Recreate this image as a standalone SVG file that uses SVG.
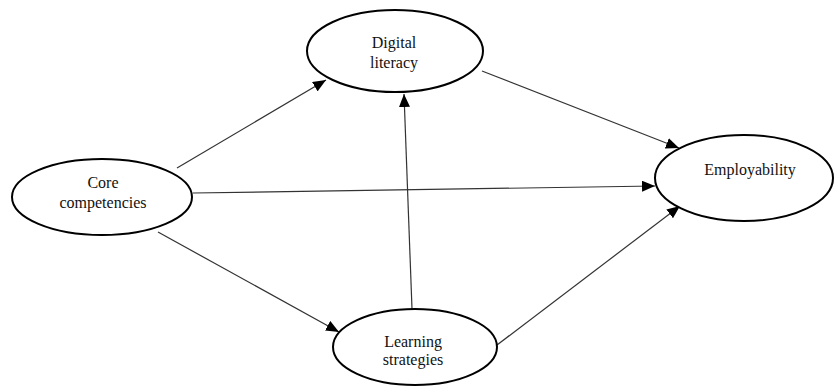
<svg xmlns="http://www.w3.org/2000/svg" width="836" height="387" viewBox="0 0 836 387">
  <style>
    .node { fill: #ffffff; stroke: #000000; stroke-width: 2; }
    .label { font-family: "Liberation Serif", "Times New Roman", serif; font-size: 16px; fill: #111111; text-anchor: middle; }
    .link { stroke: #333333; stroke-width: 1.2; fill: none; marker-end: url(#head); }
  </style>
  <defs>
    <marker id="head" markerUnits="userSpaceOnUse" markerWidth="13" markerHeight="11" refX="13" refY="5.5" orient="auto">
      <path d="M0,0 L13,5.5 L0,11 z" fill="#000000"/>
    </marker>
  </defs>
  <rect width="836" height="387" fill="#ffffff"/>

  <g id="connectors">
    <line class="link" x1="177" y1="168" x2="326" y2="80"/>
    <line class="link" x1="193" y1="193" x2="655" y2="186"/>
    <line class="link" x1="158" y1="232" x2="339" y2="332"/>
    <line class="link" x1="412" y1="309" x2="404" y2="94"/>
    <line class="link" x1="482" y1="71" x2="679" y2="148"/>
    <line class="link" x1="497" y1="345" x2="680" y2="206"/>
  </g>

  <g id="digital-literacy">
    <ellipse class="node" cx="395" cy="51" rx="88" ry="41"/>
    <text class="label" x="394" y="48">Digital</text>
    <text class="label" x="394" y="68">literacy</text>
  </g>

  <g id="core-competencies">
    <ellipse class="node" cx="102" cy="197" rx="90" ry="38"/>
    <text class="label" x="103" y="188">Core</text>
    <text class="label" x="103" y="208">competencies</text>
  </g>

  <g id="employability">
    <ellipse class="node" cx="744" cy="178" rx="89" ry="43"/>
    <text class="label" x="750" y="175">Employability</text>
  </g>

  <g id="learning-strategies">
    <ellipse class="node" cx="415" cy="347" rx="82" ry="38"/>
    <text class="label" x="413" y="347">Learning</text>
    <text class="label" x="413" y="365">strategies</text>
  </g>
</svg>
